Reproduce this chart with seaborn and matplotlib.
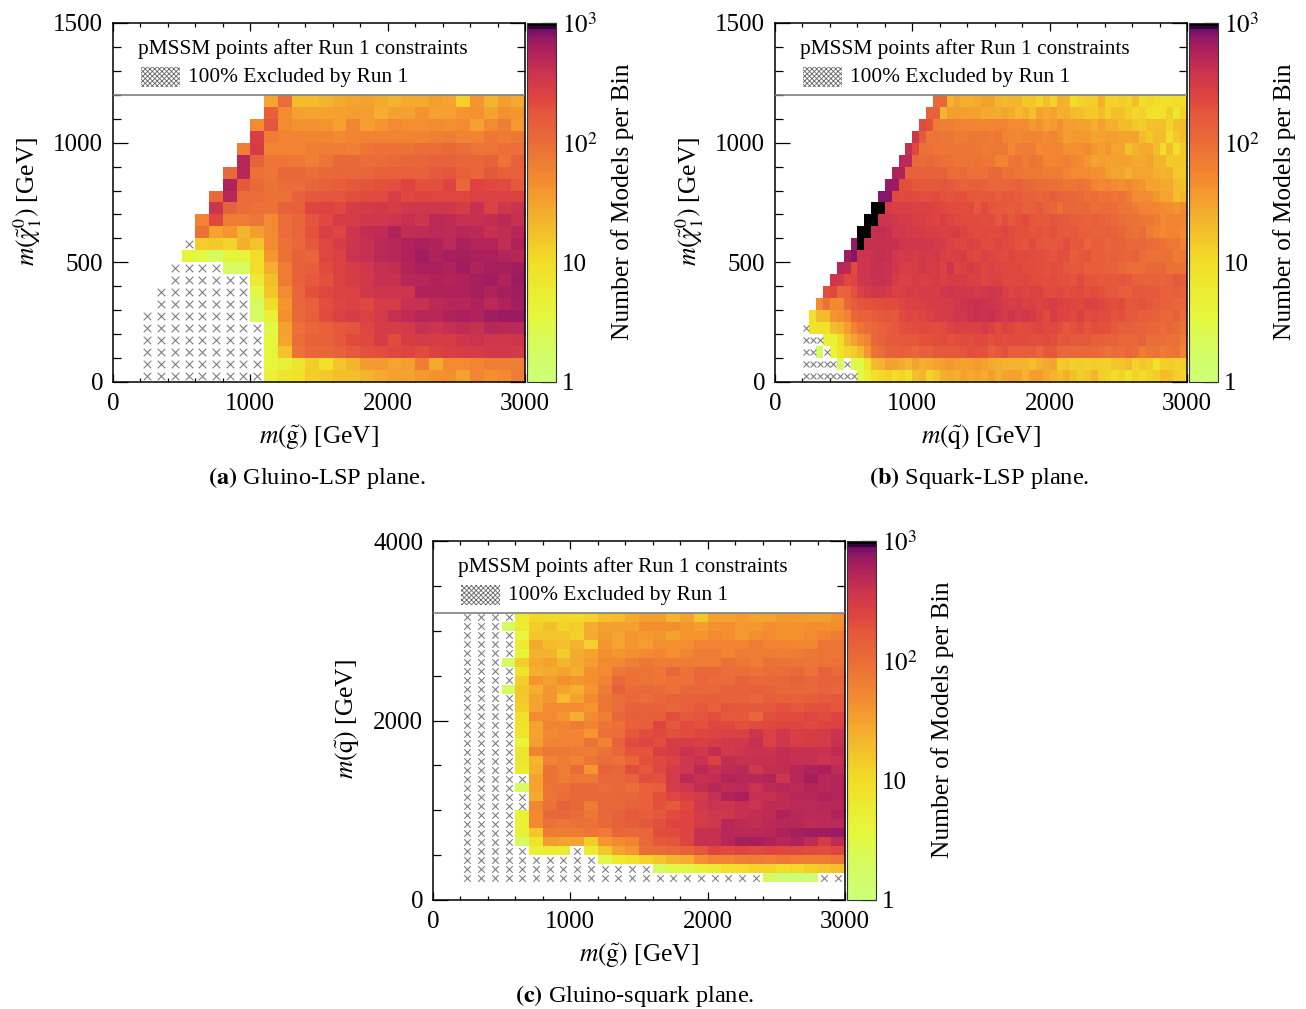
import numpy as np
import pandas as pd
import matplotlib
matplotlib.use('Agg')
import matplotlib.pyplot as plt
import seaborn as sns
from matplotlib.colors import LinearSegmentedColormap, LogNorm
from matplotlib.patches import Rectangle
from matplotlib.ticker import FixedLocator

sns.set_style('ticks')
plt.rcParams['font.family'] = ['Liberation Serif', 'DejaVu Serif']
plt.rcParams['mathtext.fontset'] = 'stix'
plt.rcParams['hatch.linewidth'] = 0.6
plt.rcParams['text.color'] = 'black'
plt.rcParams['xtick.labelcolor'] = 'black'
plt.rcParams['ytick.labelcolor'] = 'black'

H = -1  # cell that is 100% excluded

# models per bin, lowest row first; short rows are empty on the left
gluino_lsp_rows = [
    [H,H,H,H,H,H,H,H,H, 5,7,9,14,15,18,18,22,28,32,30,38,42,44,32,55,45,50,70],
    [H,H,H,H,H,H,H,H,H, 4,5,7,14,9,16,22,36,36,30,35,70,28,50,50,55,65,65,65],
    [H,H,H,H,H,H,H,H,H, 4,17,85,120,120,130,170,190,200,230,250,210,260,280,290,320,330,330,310],
    [H,H,H,H,H,H,H,H,H, 4,30,100,130,130,170,210,230,290,220,300,310,290,290,370,380,350,350,360],
    [H,H,H,H,H,H,H,H,H, 3,32,90,120,130,170,180,240,290,300,320,400,360,420,460,420,520,480,470],
    [H,H,H,H,H,H,H,H, 2,5,45,110,150,220,260,300,260,310,420,450,520,500,560,600,580,680,700,700],
    [H,H,H,H,H,H,H, 2,10,40,120,140,200,240,260,230,300,300,420,410,470,500,520,580,470,580,620],
    [H,H,H,H,H,H,H, 3,16,50,120,190,240,260,270,340,370,370,370,560,580,570,580,620,580,640,650],
    [H,H,H,H,H,H, 6,18,70,130,160,190,260,300,330,400,420,520,500,560,530,560,640,650,560,720],
    [H,H,H,H, 2,2,10,25,70,130,150,220,260,300,350,420,440,540,600,590,560,660,580,640,620,680],
    [4,3,2,4,4,10,40,90,130,120,240,260,390,420,470,520,560,680,580,620,640,590,590,550,520],
    [H, 14,15,12,25,17,50,90,110,170,240,290,360,400,470,500,580,590,560,480,590,540,530,430,560],
    [90,30,40,22,35,50,100,120,190,280,240,370,430,450,560,430,450,470,460,520,480,420,440,520],
    [60,230,70,70,80,50,100,120,180,230,300,300,350,350,360,420,370,480,460,420,420,440,480,420],
    [370,130,100,90,90,130,140,240,250,230,290,320,330,290,350,350,340,340,300,400,270,340,380],
    [110,520,100,100,90,90,130,170,180,180,200,210,210,280,230,250,240,240,240,270,270,270,260],
    [560,170,110,85,100,100,120,130,150,170,180,190,200,250,190,190,250,120,250,230,220,160],
    [110,500,90,80,110,110,100,110,120,110,120,140,140,140,130,160,180,140,120,170,140,130],
    [500,130,80,80,75,65,80,110,110,100,100,110,120,120,130,130,120,120,130,85,130],
    [65,300,60,60,60,65,70,70,65,80,90,90,90,100,100,110,100,85,85,95,95],
    [280,70,60,60,55,55,50,60,60,60,60,60,60,65,70,60,60,75,70,75],
    [50,180,50,42,42,40,32,55,35,40,50,45,45,48,45,50,32,50,65,38],
    [140,48,32,30,30,32,35,35,25,32,32,42,32,32,40,42,30,42,40],
    [30,100,20,20,22,27,30,32,27,24,27,27,35,30,13,40,22,35,27],
]

squark_lsp_rows = [
    [H,H,H,H,H,H,H,H, 3,5,9,11,12,10,12,9,18,22,12,16,25,28,25,30,28,30,28,35,25,30,32,30,24,35,35,28,22,20,25,18,14,16,22,14,12,10,12,9,12,10,12,14,20,18,14,12],
    [H,H,H,H,H,2,H,3,3,8, 20,22,32,30,28,22,30,25,28,30,35,38,35,30,32,38,32,26,25,24,22,22,22,18,24,28,30,14,16,13,14,13,14,14,13,16,16,20,12,16,14,9,14,14,12,14],
    [H,H,2,H,4,8,12,14,20,40, 85,100,130,140,150,130,120,150,130,170,170,170,170,180,200,190,190,150,170,190,150,150,150,150,120,170,170,120,110,110,110,120,110,100,90,100,95,110,100,70,80,85,70,80,85,60],
    [H,H,H,5,5,10,22,30,45,55, 110,130,160,160,170,170,170,190,190,200,210,190,200,220,200,230,230,190,220,200,210,220,220,200,200,210,200,170,180,170,160,170,150,150,130,130,120,110,120,130,100,100,100,90,90,70],
    [H,8,9,9,20,22,35,60, 80,100,110,130,150,170,190,200,210,230,210,200,220,250,280,270,260,270,300,270,220,260,240,200,220,230,250,220,230,200,170,190,210,180,200,190,190,160,140,150,130,130,120,110,100,120,100,90],
    [9,20,20,40,45,60,120, 130,140,150,170,180,170,220,240,230,250,260,290,300,320,360,340,380,400,390,410,360,320,360,320,350,300,270,210,300,250,240,220,260,220,230,220,210,180,190,170,160,140,150,130,110,110,130,100],
    [50,90,50,50,110,150, 180,190,190,200,210,220,240,270,260,280,290,300,290,320,340,360,380,400,380,360,350,300,280,310,270,280,250,280,300,270,250,240,230,260,270,230,220,200,210,170,180,190,170,150,130,130,120,120],
    [200,230,120,130,190, 270,320,340,340,290,260,280,320,280,320,290,300,350,370,340,340,350,320,330,360,340,280,240,260,240,260,260,220,210,230,200,210,230,190,210,190,170,170,150,140,170,170,160,160,140,130,150,130],
    [350,330,230,250, 350,370,380,400,380,300,260,270,290,270,280,300,270,300,290,290,260,280,240,270,260,230,230,230,240,220,210,200,220,190,190,180,210,180,180,160,170,160,180,160,130,130,130,140,120,130,170,150],
    [520,480,220, 360,370,400,400,390,340,290,280,290,330,310,300,270,360,250,260,290,280,240,270,240,240,230,230,220,210,200,190,200,190,170,160,170,150,150,150,130,130,110,100,100,100,110,110,110,90,90,85],
    [650,800, 360,370,420,430,420,350,320,330,300,330,320,330,280,260,280,290,240,230,260,240,230,220,240,220,230,220,200,190,180,200,190,150,170,180,140,150,130,150,130,120,130,100,90,85,90,90,70,75],
    [750,1000, 420,420,400,420,420,370,340,340,350,340,310,320,260,240,230,260,250,220,210,240,230,210,190,180,210,180,170,170,180,200,170,170,120,150,150,120,140,130,110,110,110,100,100,85,75,75,60],
    [1000,1000, 420,430,400,330,350,320,310,300,280,280,260,280,290,250,230,220,230,220,210,240,220,190,190,180,190,180,190,170,160,170,150,140,130,130,150,130,120,100,85,100,70,60,50,60,55,50],
    [1000,1000, 360,370,350,320,310,280,280,270,250,280,240,230,220,220,210,200,220,170,200,170,190,210,180,170,170,180,170,160,150,150,130,150,130,120,110,100,90,85,80,75,70,50,60,60,55],
    [1000,1000, 300,280,280,280,260,270,260,250,230,220,220,200,210,170,210,180,170,170,150,170,130,140,170,130,120,90,120,120,110,110,95,100,100,100,80,80,70,60,60,55,50,45,40,50],
    [800,800, 230,220,230,220,200,200,210,190,180,190,190,170,160,170,170,150,170,160,150,130,130,120,130,150,130,120,120,105,90,100,85,90,80,85,70,50,50,50,40,30,30,20,22],
    [700,700, 200,190,170,170,170,170,180,170,150,130,140,150,130,120,120,120,120,140,120,110,100,100,95,90,80,80,90,80,60,50,60,50,45,50,45,40,30,30,28,28,20,18],
    [570,570, 140,130,130,130,130,130,100,100,110,95,90,90,110,110,90,90,80,75,75,75,70,70,70,60,50,50,50,45,45,35,30,30,25,30,30,30,25,22,25,15,15],
    [480,480, 110,100,110,100,90,90,80,80,80,85,80,80,60,60,80,85,70,85,75,55,55,60,65,55,50,40,30,35,32,30,32,32,28,28,32,22,22,15,16,15],
    [400,230, 95,90,80,80,75,80,80,80,75,70,75,75,75,50,70,70,70,50,55,55,55,45,45,45,50,40,35,40,30,30,18,24,28,28,20,10,20,10,15],
    [350,160, 80,85,80,80,70,70,75,75,75,70,75,55,55,50,60,60,55,50,55,45,35,38,38,38,30,32,35,35,30,30,30,20,15,20,20,10,15,20],
    [220,190, 70,65,65,60,60,60,55,55,55,60,60,50,50,50,38,42,35,36,45,35,35,32,32,25,32,25,25,20,20,15,14,18,18,18,12,18,20],
    [130,130, 22,35,35,35,32,32,28,28,26,30,26,20,25,18,30,28,30,25,25,20,18,15,15,20,14,18,18,14,11,13,9,8,9,14,7,12],
    [110,120, 23,30,25,25,28,32,30,22,20,22,22,15,16,12,18,12,25,22,10,12,14,14,25,12,12,14,12,18,10,11,10,9,9,10,10],
]

gluino_squark_rows = [
    [],
    [],
    [H,H,H,H,H,H,H,H,H,H,H,H,H,H,H,H,H,H,H,H,H,H, 2,1,1,1, H,H],
    [H,H,H,H,H,H,H,H,H,H,H,H,H,H, 2,3,3,5,6,9,10,12,12,10,11,14,15,18],
    [H,H,H,H,H,H,H,H,H,H, 3,6,8,12,16,22,25,45,60,60,65,70,65,75,70,70,70,80],
    [H,H,H,H,H, 5,6,6, H, 6,15,30,40,100,100,110,130,170,240,220,240,220,240,230,230,220,200,240],
    [H,H,H,H, 2,8,35,30,30,14,40,50,60,110,170,180,240,400,420,500,620,640,580,520,560,460,300,450],
    [H,H,H,H, 5,16,70,70,70,80,70,120,110,120,200,210,250,420,400,520,470,480,500,560,620,650,650,700],
    [H,H,H,H, 5,50,90,80,90,90,110,130,150,170,190,240,250,320,340,500,450,430,470,520,500,450,480,480],
    [H,H,H,H, 5,50,110,120,100,75,110,130,160,150,170,220,250,300,350,350,400,440,450,560,500,490,470,560],
    [H,H,H,H,H, 55,90,130,110,70,120,110,130,130,190,160,230,350,380,370,410,380,450,450,480,480,520,520],
    [H,H,H,H,H, 28,80,100,110,110,110,120,120,140,200,240,280,320,420,540,600,400,420,460,520,500,560,530],
    [H,H,H,H, 2,30,85,90,110,110,100,110,100,130,150,300,340,430,510,450,470,390,480,500,470,540,500,540],
    [H,H,H,H,H, 30,90,70,75,75,110,120,140,200,190,310,470,420,430,550,520,500,530,370,500,640,520,540],
    [H,H,H,H, 6,25,85,70,100,40,130,120,200,170,230,300,340,470,400,450,480,350,440,430,500,580,600,450],
    [H,H,H,H, 7,22,60,70,60,80,100,90,120,190,230,260,350,380,270,430,400,400,400,430,420,400,370,420],
    [H,H,H,H, 7,60,75,75,70,70,90,120,180,180,280,300,380,330,440,330,370,380,380,440,420,400,380,450],
    [H,H,H,H, 4,35,60,60,60,85,60,130,220,240,200,290,290,280,300,330,350,420,260,340,280,300,290,400],
    [H,H,H,H, 8,30,50,55,60,40,90,100,170,200,230,190,220,240,250,270,260,360,260,350,280,290,310,390],
    [H,H,H,H, 8,30,60,60,70,60,80,90,130,150,240,170,220,190,230,230,190,220,230,240,240,220,250,270],
    [H,H,H,H, 9,50,50,40,25,50,65,120,150,140,150,200,160,180,200,160,170,120,200,220,220,240,220,250],
    [H,H,H,H, 14,30,50,50,50,40,80,100,130,130,130,120,140,160,140,180,170,170,170,190,170,190,190,180],
    [H,H,H,H, 15,30,40,20,30,50,80,100,110,100,120,130,130,140,150,130,130,120,150,140,130,150,160,170],
    [H,H,H, 2,16,25,40,30,25,40,70,140,100,110,100,90,110,110,110,130,130,150,130,110,120,110,130,120],
    [H,H,H,H, 14,40,35,45,40,45,60,110,90,85,80,90,90,120,100,100,130,110,110,120,130,120,130,130],
    [H,H,H,H, 8,25,28,30,25,45,50,75,85,85,80,120,85,110,110,100,100,90,100,100,110,90,130,110],
    [H,H,H, 2,14,28,30,22,28,35,50,50,65,75,70,70,70,70,70,90,80,70,90,85,85,80,85,90],
    [H,H,H,H, 4,24,24,14,26,30,45,40,45,50,55,45,55,70,70,60,70,70,70,65,70,75,85,80],
    [H,H,H,H, 6,28,20,18,24,13,40,30,40,35,45,45,45,60,60,60,60,70,60,60,55,55,85,80],
    [H,H,H,H, 4,16,16,16,13,26,36,30,40,36,40,32,40,40,50,45,36,45,50,42,42,50,60,70],
    [H,H,H, 2,6,14,18,12,14,26,34,34,32,45,45,45,40,35,42,45,38,38,45,42,42,45,45,48],
    [H,H,H,H, 6,11,11,11,11,12,18,20,28,35,34,24,30,16,32,32,36,30,30,38,36,34,34,42],
]

colorbar_major = [1, 10, 100, 1000]
colorbar_labels = ['1', '10', '$10^2$', '$10^3$']
colorbar_minor = [2, 3, 4, 5, 6, 7, 8, 9, 20, 30, 40, 50, 60, 70, 80, 90, 200, 300, 400, 500, 600, 700, 800, 900]

FIG_W, FIG_H = 1306, 1009

cmap = LinearSegmentedColormap.from_list('models', [
    (0.00, '#ccff78'), (0.10, '#d6fb60'), (0.18, '#e6f83c'), (0.33, '#f2de28'),
    (0.45, '#f4b52e'), (0.55, '#f48f30'), (0.67, '#ea6c38'), (0.75, '#e4573c'),
    (0.80, '#df4340'), (0.87, '#c83250'), (0.93, '#ab205c'), (0.96, '#951a62'),
    (0.99, '#680a6c'), (0.994, '#000000'), (1.00, '#000000')], N=128)


def px_axes(fig, left, top, width, height):
    return fig.add_axes([left / FIG_W, 1 - (top + height) / FIG_H, width / FIG_W, height / FIG_H])


def to_table(rows, n_cols):
    return pd.DataFrame([[0] * (n_cols - len(r)) + r for r in rows], dtype=float)


def draw_panel(fig, rows, n_cols, left, top, x_bin, y_bin, y_max, y_major, y_minor,
               marker_size, xlabel, ylabel, caption, caption_x):
    table = to_table(rows, n_cols)
    ax = px_axes(fig, left, top, 412, 359)
    cax = px_axes(fig, left + 414, top, 29, 359)

    sns.heatmap(table, ax=ax, cbar_ax=cax, cmap=cmap, norm=LogNorm(1, 1000), mask=table <= 0,
                xticklabels=False, yticklabels=False, rasterized=True)
    ax.set_xlim(0, 3000 / x_bin)
    ax.set_ylim(0, y_max / y_bin)

    # excluded cells
    ys, xs = np.where(table.values == H)
    ax.scatter(xs + 0.5, ys + 0.5, marker='x', s=marker_size, linewidths=0.75, color='#777777', zorder=3)

    # the box on top of the grid holds the two text lines
    ax.axhline(0.8 * y_max / y_bin, color='#808080', lw=1.2, zorder=4)
    ax.text(0.0607, 0.928, 'pMSSM points after Run 1 constraints', transform=ax.transAxes,
            fontsize=15.4, va='center', ha='left')
    ax.text(0.182, 0.847, '100% Excluded by Run 1', transform=ax.transAxes,
            fontsize=15.4, va='center', ha='left')
    ax.add_patch(Rectangle((0.068, 0.822), 0.095, 0.056, transform=ax.transAxes, facecolor='white',
                           edgecolor='#666666', lw=0, hatch='xxxxxxx'))

    ax.xaxis.set_major_locator(FixedLocator([v / x_bin for v in (0, 1000, 2000, 3000)]))
    ax.xaxis.set_minor_locator(FixedLocator([v / x_bin for v in range(0, 3001, 200)]))
    ax.yaxis.set_major_locator(FixedLocator([v / y_bin for v in y_major]))
    ax.yaxis.set_minor_locator(FixedLocator([v / y_bin for v in y_minor]))
    ax.set_xticklabels(['0', '1000', '2000', '3000'])
    ax.set_yticklabels([str(v) for v in y_major])
    ax.tick_params(axis='both', which='both', direction='in', top=True, right=True,
                   bottom=True, left=True, width=0.9, color='black')
    ax.tick_params(axis='x', which='major', length=5.5, labelsize=18, pad=8)
    ax.tick_params(axis='x', which='minor', length=3)
    ax.tick_params(axis='y', which='major', length=11, labelsize=18, pad=7)
    ax.tick_params(axis='y', which='minor', length=6)
    for spine in ax.spines.values():
        spine.set_visible(True)
        spine.set_linewidth(1.1)
        spine.set_color('black')

    cbar = ax.collections[0].colorbar
    cbar.outline.set_linewidth(0.8)
    cbar.outline.set_edgecolor('#333333')
    cbar.set_ticks(colorbar_major, labels=colorbar_labels)
    cbar.set_ticks(colorbar_minor, minor=True)
    cax.tick_params(axis='y', which='major', direction='in', left=False, right=True, length=11, width=0.9,
                    labelsize=18, pad=4, color='#222222')
    cax.tick_params(axis='y', which='minor', direction='in', left=False, right=True, length=5.5, width=0.9,
                    color='#222222')

    fig.text((left + 510) / FIG_W, 1 - (top + 179) / FIG_H, 'Number of Models per Bin', rotation=90,
             fontsize=18.4, ha='center', va='center')
    fig.text((left + 206) / FIG_W, 1 - (top + 415) / FIG_H, xlabel, fontsize=18.4, ha='center', va='center')
    fig.text((left - 85) / FIG_W, 1 - (top + 178) / FIG_H, ylabel, rotation=90,
             fontsize=18.4, ha='center', va='center')
    fig.text(caption_x / FIG_W, 1 - (top + 455) / FIG_H, caption, fontsize=17.6, ha='center', va='center')


fig = plt.figure(figsize=(FIG_W / 100, FIG_H / 100), dpi=100, facecolor='white')

lsp_label = r'$m(\tilde{\chi}_1^0)$ [GeV]'
gluino_label = r'$m(\tilde{\mathrm{g}})$ [GeV]'
squark_label = r'$m(\tilde{\mathrm{q}})$ [GeV]'

draw_panel(fig, gluino_lsp_rows, 30, 113, 23, 100, 50, 1500, [0, 500, 1000, 1500], range(0, 1501, 100),
           30, gluino_label, lsp_label, r'$\mathbf{(a)}$ Gluino-LSP plane.', 317)
draw_panel(fig, squark_lsp_rows, 60, 775, 23, 50, 50, 1500, [0, 500, 1000, 1500], range(0, 1501, 100),
           18, squark_label, lsp_label, r'$\mathbf{(b)}$ Squark-LSP plane.', 979)
draw_panel(fig, gluino_squark_rows, 30, 433, 541, 100, 100, 4000, [0, 2000, 4000], range(0, 4001, 500),
           22, gluino_label, squark_label, r'$\mathbf{(c)}$ Gluino-squark plane.', 635)

fig.savefig('out.png', dpi=100)
